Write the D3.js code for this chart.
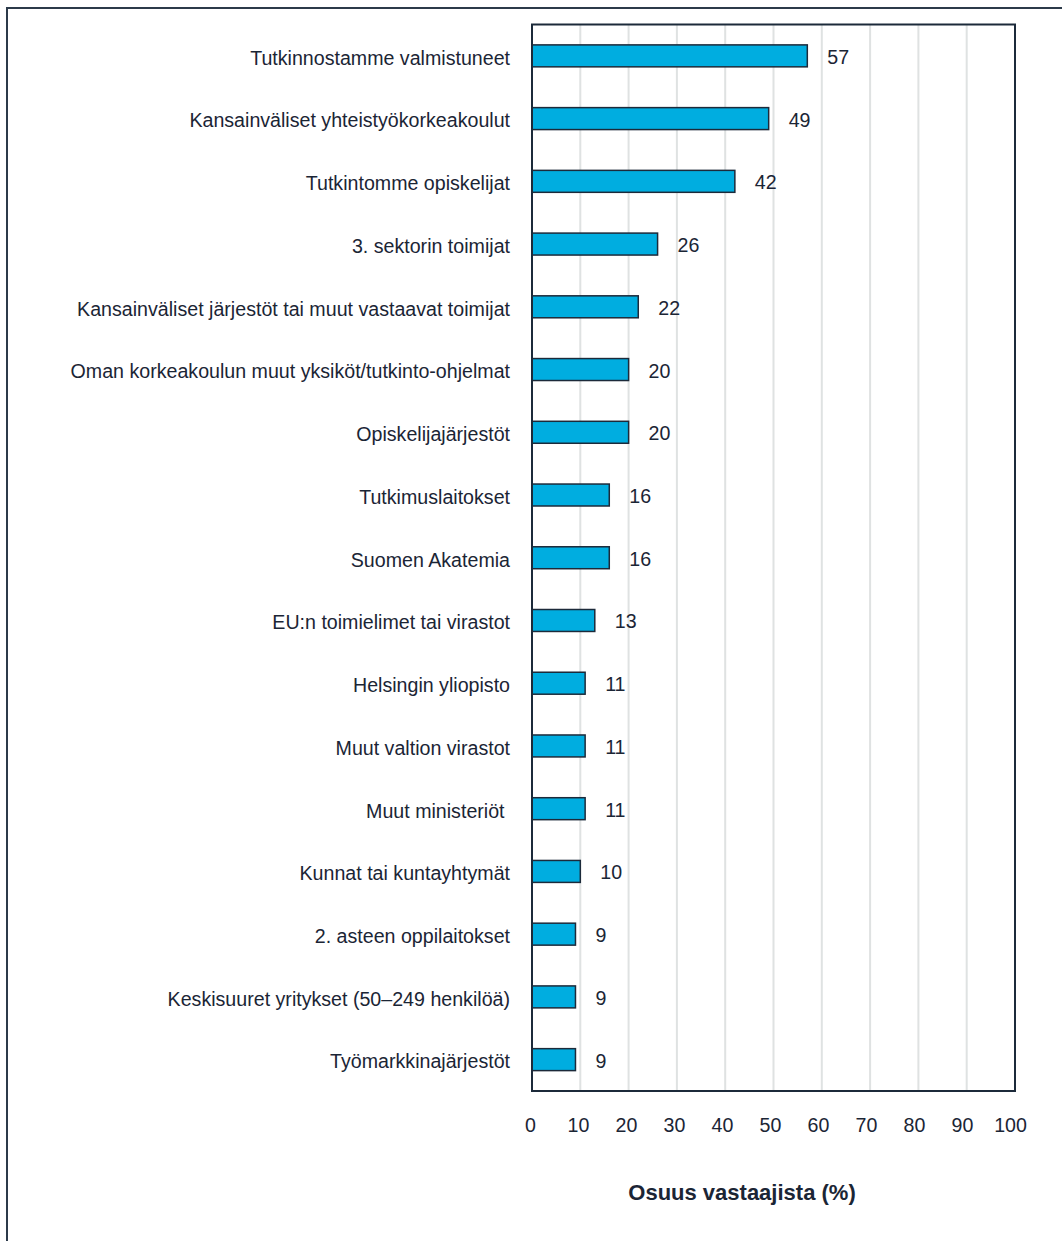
<!DOCTYPE html>
<html>
<head>
<meta charset="utf-8">
<script src="https://cdn.jsdelivr.net/npm/d3@7"></script>
<style>
  html, body { margin: 0; padding: 0; background: #fff; }
  svg { display: block; font-family: "Liberation Sans", Arial, sans-serif; }
  text { white-space: pre; }
</style>
</head>
<body>
<svg id="chart" width="1062" height="1241"></svg>
<script>
// Categories (top to bottom) and their shares of respondents (%)
const categories = [
  "Tutkinnostamme valmistuneet",
  "Kansainväliset yhteistyökorkeakoulut",
  "Tutkintomme opiskelijat",
  "3. sektorin toimijat",
  "Kansainväliset järjestöt tai muut vastaavat toimijat",
  "Oman korkeakoulun muut yksiköt/tutkinto-ohjelmat",
  "Opiskelijajärjestöt",
  "Tutkimuslaitokset",
  "Suomen Akatemia",
  "EU:n toimielimet tai virastot",
  "Helsingin yliopisto",
  "Muut valtion virastot",
  "Muut ministeriöt ",
  "Kunnat tai kuntayhtymät",
  "2. asteen oppilaitokset",
  "Keskisuuret yritykset (50–249 henkilöä)",
  "Työmarkkinajärjestöt"
];
const values = [57, 49, 42, 26, 22, 20, 20, 16, 16, 13, 11, 11, 11, 10, 9, 9, 9];
const xTicks = [0, 10, 20, 30, 40, 50, 60, 70, 80, 90, 100];
const xTitle = "Osuus vastaajista (%)";

const svg = d3.select("#chart");
const ink = "#1b2535";
const fontSize = 21;
const squeeze = 0.935;   // slightly condensed lettering

// Outer frame (only left and top edges fall inside the canvas)
svg.append("path")
  .attr("d", "M7,1241 V8 H1062")
  .attr("fill", "none")
  .attr("stroke", "#2c3a4a")
  .attr("stroke-width", 2);

const plot = { left: 532, right: 1015, top: 24.5, bottom: 1091 };

const x = d3.scaleLinear().domain([0, 100]).range([plot.left, plot.right]);
// tick labels sit on a slightly tighter run than the gridlines
const xLabel = d3.scaleLinear().domain([0, 100]).range([530, 1010]);
const y = d3.scaleBand().domain(categories).range([plot.top, plot.bottom]).paddingInner(0.65).paddingOuter(0.325);

// Vertical gridlines
svg.append("g")
  .selectAll("line")
  .data(xTicks.filter(t => t > 0 && t < 100))
  .join("line")
  .attr("x1", d => x(d)).attr("x2", d => x(d))
  .attr("y1", plot.top).attr("y2", plot.bottom)
  .attr("stroke", "#dfe2e2")
  .attr("stroke-width", 2);

// Bars
svg.append("g")
  .selectAll("rect")
  .data(values)
  .join("rect")
  .attr("x", x(0))
  .attr("y", (d, i) => y(categories[i]))
  .attr("width", d => x(d) - x(0))
  .attr("height", y.bandwidth())
  .attr("fill", "#00ade0")
  .attr("stroke", "#1c2a3a")
  .attr("stroke-width", 1.5);

// Value labels
svg.append("g")
  .selectAll("text")
  .data(values)
  .join("text")
  .attr("transform", (d, i) => `translate(${x(d) + 20},${y(categories[i]) + y.bandwidth() / 2}) scale(${squeeze},1)`)
  .attr("dy", "0.38em")
  .attr("font-size", fontSize)
  .attr("fill", ink)
  .text(d => d);

// Plot frame
svg.append("rect")
  .attr("x", plot.left).attr("y", plot.top)
  .attr("width", plot.right - plot.left).attr("height", plot.bottom - plot.top)
  .attr("fill", "none")
  .attr("stroke", "#1c2a3a")
  .attr("stroke-width", 2);

// Category axis
const yAxis = svg.append("g")
  .attr("transform", `translate(${plot.left},0)`)
  .call(d3.axisLeft(y).tickSize(0).tickPadding(22));
yAxis.select(".domain").remove();
yAxis.selectAll("text")
  .attr("font-size", fontSize)
  .attr("font-family", "Liberation Sans, Arial, sans-serif")
  .attr("fill", ink)
  .attr("x", -22 / squeeze)
  .attr("dy", "0.42em")
  .attr("transform", `scale(${squeeze},1)`);

// Value axis
const xAxis = svg.append("g")
  .attr("transform", `translate(0,${plot.bottom})`)
  .call(d3.axisBottom(xLabel).tickValues(xTicks).tickSize(0).tickPadding(26).tickFormat(d3.format("d")));
xAxis.select(".domain").remove();
xAxis.selectAll("text")
  .attr("font-size", fontSize)
  .attr("font-family", "Liberation Sans, Arial, sans-serif")
  .attr("fill", ink)
  .attr("transform", `scale(${squeeze},1)`);

// Axis title
svg.append("text")
  .attr("x", 742)
  .attr("y", 1200)
  .attr("text-anchor", "middle")
  .attr("font-size", 22)
  .attr("font-weight", "bold")
  .attr("fill", ink)
  .text(xTitle);
</script>
</body>
</html>
